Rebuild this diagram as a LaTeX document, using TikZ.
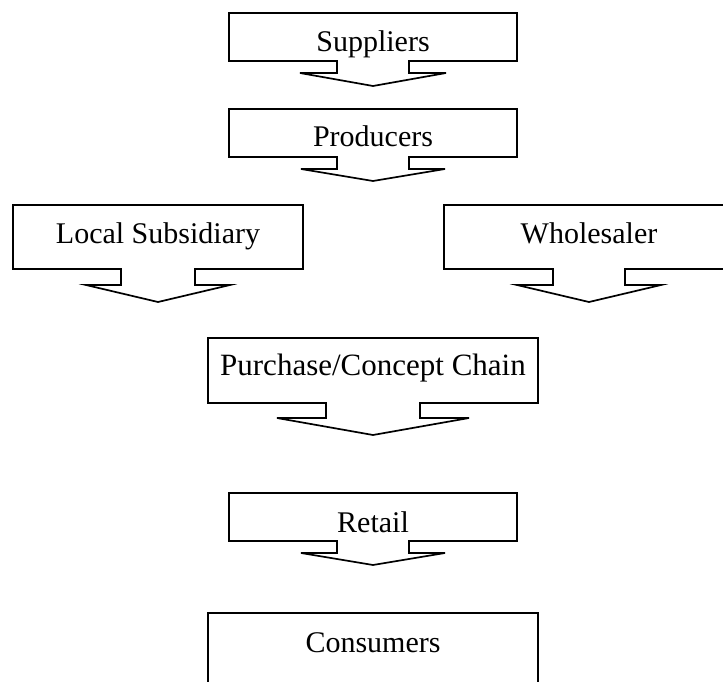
\documentclass[tikz,border=0pt]{standalone}
\usepackage{fontspec}
\setmainfont{Liberation Serif}

% Box with a downward arrow under it.
% #1 centre x, #2 top, #3 bottom, #4 half width, #5 stem half width,
% #6 wing half width, #7 stem depth, #8 tip depth
\newcommand\downcallout[8]{%
  \draw[calloutline] (#1-#4,#2) -- (#1+#4,#2) -- (#1+#4,#3)
    -- (#1+#5,#3) -- (#1+#5,#3+#7) -- (#1+#6,#3+#7)
    -- (#1,#3+#8)
    -- (#1-#6,#3+#7) -- (#1-#5,#3+#7) -- (#1-#5,#3)
    -- (#1-#4,#3) -- cycle;}

\begin{document}
\begin{tikzpicture}[x=1pt,y=-1pt,
  calloutline/.style={draw=black,line width=1.7pt,line join=miter},
  stage/.style={anchor=base,inner sep=0pt,font=\fontsize{30}{36}\selectfont}]
\useasboundingbox (0,0) rectangle (723,682);
\clip (0,0) rectangle (723,682);

% supply chain stages
\downcallout{373}{13}{61}{144}{36}{73}{12}{25}
\node[stage] (suppliers) at (373,52) {Suppliers};

\downcallout{373}{109}{157}{144}{36}{72}{12}{24}
\node[stage] (producers) at (373,147) {Producers};

\downcallout{158}{205}{269}{145}{37}{72}{16}{33}
\node[stage] (subsidiary) at (158,243) {Local Subsidiary};

\downcallout{589}{205}{269}{145}{36}{72}{16}{33}
\node[stage] (wholesaler) at (589,243) {Wholesaler};

\downcallout{373}{338}{403}{165}{47}{96}{15}{32}
\node[stage] (chain) at (373,375) {\fontsize{31}{36}\selectfont Purchase/Concept Chain};

\downcallout{373}{493}{541}{144}{36}{72}{12}{24}
\node[stage] (retail) at (373,532) {Retail};

% last stage: plain box running off the bottom edge
\draw[calloutline] (208,700) -- (208,613) -- (538,613) -- (538,700);
\node[stage] (consumers) at (373,652) {Consumers};
\end{tikzpicture}
\end{document}
